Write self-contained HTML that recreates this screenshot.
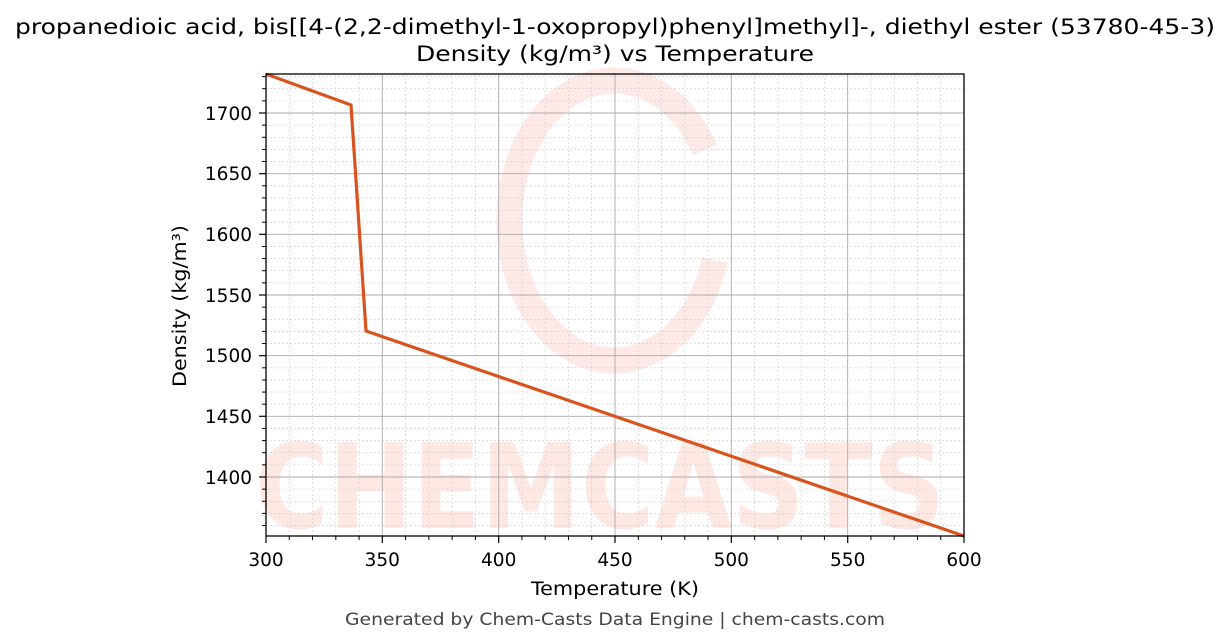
<!DOCTYPE html>
<html><head><meta charset="utf-8"><style>
html,body{margin:0;padding:0;background:#fff;}
svg{display:block;font-family:"DejaVu Sans","Liberation Sans",sans-serif;}
</style></head><body>
<svg width="1231" height="644" viewBox="0 0 1231 644" xmlns="http://www.w3.org/2000/svg">
<rect width="1231" height="644" fill="#fff"/>
<text x="615" y="34" font-size="21" text-anchor="middle" fill="#000" textLength="1200" lengthAdjust="spacingAndGlyphs">propanedioic acid, bis[[4-(2,2-dimethyl-1-oxopropyl)phenyl]methyl]-, diethyl ester (53780-45-3)</text>
<text x="615" y="61" font-size="21" text-anchor="middle" fill="#000" textLength="398" lengthAdjust="spacingAndGlyphs">Density (kg/m³) vs Temperature</text>
<g opacity="0.15" fill="#f26a4f">
<path d="M705,150 A105,140 0 1 0 715,260" fill="none" stroke="#f26a4f" stroke-width="26"/>
<text x="600" y="528" font-size="118" font-weight="bold" text-anchor="middle" textLength="690" lengthAdjust="spacingAndGlyphs">CHEMCASTS</text>
</g>
<g id="grid">
<g stroke="#ccc" stroke-width="0.6" stroke-dasharray="2,2">
<line x1="289.3" y1="74" x2="289.3" y2="536"/><line x1="312.5" y1="74" x2="312.5" y2="536"/><line x1="335.8" y1="74" x2="335.8" y2="536"/><line x1="359.1" y1="74" x2="359.1" y2="536"/>
<line x1="405.6" y1="74" x2="405.6" y2="536"/><line x1="428.9" y1="74" x2="428.9" y2="536"/><line x1="452.1" y1="74" x2="452.1" y2="536"/><line x1="475.4" y1="74" x2="475.4" y2="536"/>
<line x1="521.9" y1="74" x2="521.9" y2="536"/><line x1="545.2" y1="74" x2="545.2" y2="536"/><line x1="568.5" y1="74" x2="568.5" y2="536"/><line x1="591.7" y1="74" x2="591.7" y2="536"/>
<line x1="638.3" y1="74" x2="638.3" y2="536"/><line x1="661.5" y1="74" x2="661.5" y2="536"/><line x1="684.8" y1="74" x2="684.8" y2="536"/><line x1="708.1" y1="74" x2="708.1" y2="536"/>
<line x1="754.6" y1="74" x2="754.6" y2="536"/><line x1="777.9" y1="74" x2="777.9" y2="536"/><line x1="801.1" y1="74" x2="801.1" y2="536"/><line x1="824.4" y1="74" x2="824.4" y2="536"/>
<line x1="870.9" y1="74" x2="870.9" y2="536"/><line x1="894.2" y1="74" x2="894.2" y2="536"/><line x1="917.5" y1="74" x2="917.5" y2="536"/><line x1="940.7" y1="74" x2="940.7" y2="536"/>
</g>
<g stroke="#ccc" stroke-width="0.6" stroke-dasharray="2,2" id="hminor"></g>
<g stroke="#aaa" stroke-width="0.9">
<line x1="382.3" y1="74" x2="382.3" y2="536"/><line x1="498.7" y1="74" x2="498.7" y2="536"/><line x1="615" y1="74" x2="615" y2="536"/><line x1="731.3" y1="74" x2="731.3" y2="536"/><line x1="847.7" y1="74" x2="847.7" y2="536"/>
<line x1="266" y1="113" x2="964" y2="113"/><line x1="266" y1="173.7" x2="964" y2="173.7"/><line x1="266" y1="234.3" x2="964" y2="234.3"/><line x1="266" y1="295" x2="964" y2="295"/><line x1="266" y1="355.7" x2="964" y2="355.7"/><line x1="266" y1="416.3" x2="964" y2="416.3"/><line x1="266" y1="477" x2="964" y2="477"/>
</g>
</g>
<g id="yminorticks" stroke="#000" stroke-width="1"></g>
<polyline points="266,74 351,105 366,331 964,536" fill="none" stroke="#d9531e" stroke-width="3.2" stroke-linejoin="round"/>
<rect x="266" y="74" width="698" height="462" fill="none" stroke="#000" stroke-width="1.3"/>
<g stroke="#000" stroke-width="1.2">
<line x1="266" y1="536" x2="266" y2="543"/><line x1="382.3" y1="536" x2="382.3" y2="543"/><line x1="498.7" y1="536" x2="498.7" y2="543"/><line x1="615" y1="536" x2="615" y2="543"/><line x1="731.3" y1="536" x2="731.3" y2="543"/><line x1="847.7" y1="536" x2="847.7" y2="543"/><line x1="964" y1="536" x2="964" y2="543"/>
<line x1="259" y1="113" x2="266" y2="113"/><line x1="259" y1="173.7" x2="266" y2="173.7"/><line x1="259" y1="234.3" x2="266" y2="234.3"/><line x1="259" y1="295" x2="266" y2="295"/><line x1="259" y1="355.7" x2="266" y2="355.7"/><line x1="259" y1="416.3" x2="266" y2="416.3"/><line x1="259" y1="477" x2="266" y2="477"/>
</g>
<g font-size="18.5" fill="#000" text-anchor="middle">
<text x="266" y="566">300</text><text x="382.3" y="566">350</text><text x="498.7" y="566">400</text><text x="615" y="566">450</text><text x="731.3" y="566">500</text><text x="847.7" y="566">550</text><text x="964" y="566">600</text>
</g>
<g font-size="18.5" fill="#000" text-anchor="end">
<text x="252" y="120">1700</text><text x="252" y="180">1650</text><text x="252" y="241">1600</text><text x="252" y="302">1550</text><text x="252" y="362">1500</text><text x="252" y="423">1450</text><text x="252" y="484">1400</text>
</g>
<text x="615" y="595" font-size="18.5" text-anchor="middle" textLength="168" lengthAdjust="spacingAndGlyphs">Temperature (K)</text>
<text transform="translate(186,306) rotate(-90)" font-size="18.5" text-anchor="middle" textLength="162" lengthAdjust="spacingAndGlyphs">Density (kg/m³)</text>
<text x="615" y="625" font-size="17" fill="#444" text-anchor="middle" textLength="540" lengthAdjust="spacingAndGlyphs">Generated by Chem-Casts Data Engine | chem-casts.com</text>
<script>
(function(){
var ns="http://www.w3.org/2000/svg",g=document.getElementById("hminor"),t=document.getElementById("yminorticks");
for(var v=1360;v<=1730;v+=10){if(v%50==0)continue;var y=477-(v-1400)*1.21333;
var l=document.createElementNS(ns,"line");l.setAttribute("x1",266);l.setAttribute("x2",964);l.setAttribute("y1",y);l.setAttribute("y2",y);g.appendChild(l);
var k=document.createElementNS(ns,"line");k.setAttribute("x1",262);k.setAttribute("x2",266);k.setAttribute("y1",y);k.setAttribute("y2",y);t.appendChild(k);}
for(var x=310;x<600;x+=10){if(x%50==0)continue;var px=266+(x-300)*2.32667;
var k2=document.createElementNS(ns,"line");k2.setAttribute("x1",px);k2.setAttribute("x2",px);k2.setAttribute("y1",536);k2.setAttribute("y2",540);t.appendChild(k2);}
})();
</script>
</svg>
</body></html>
